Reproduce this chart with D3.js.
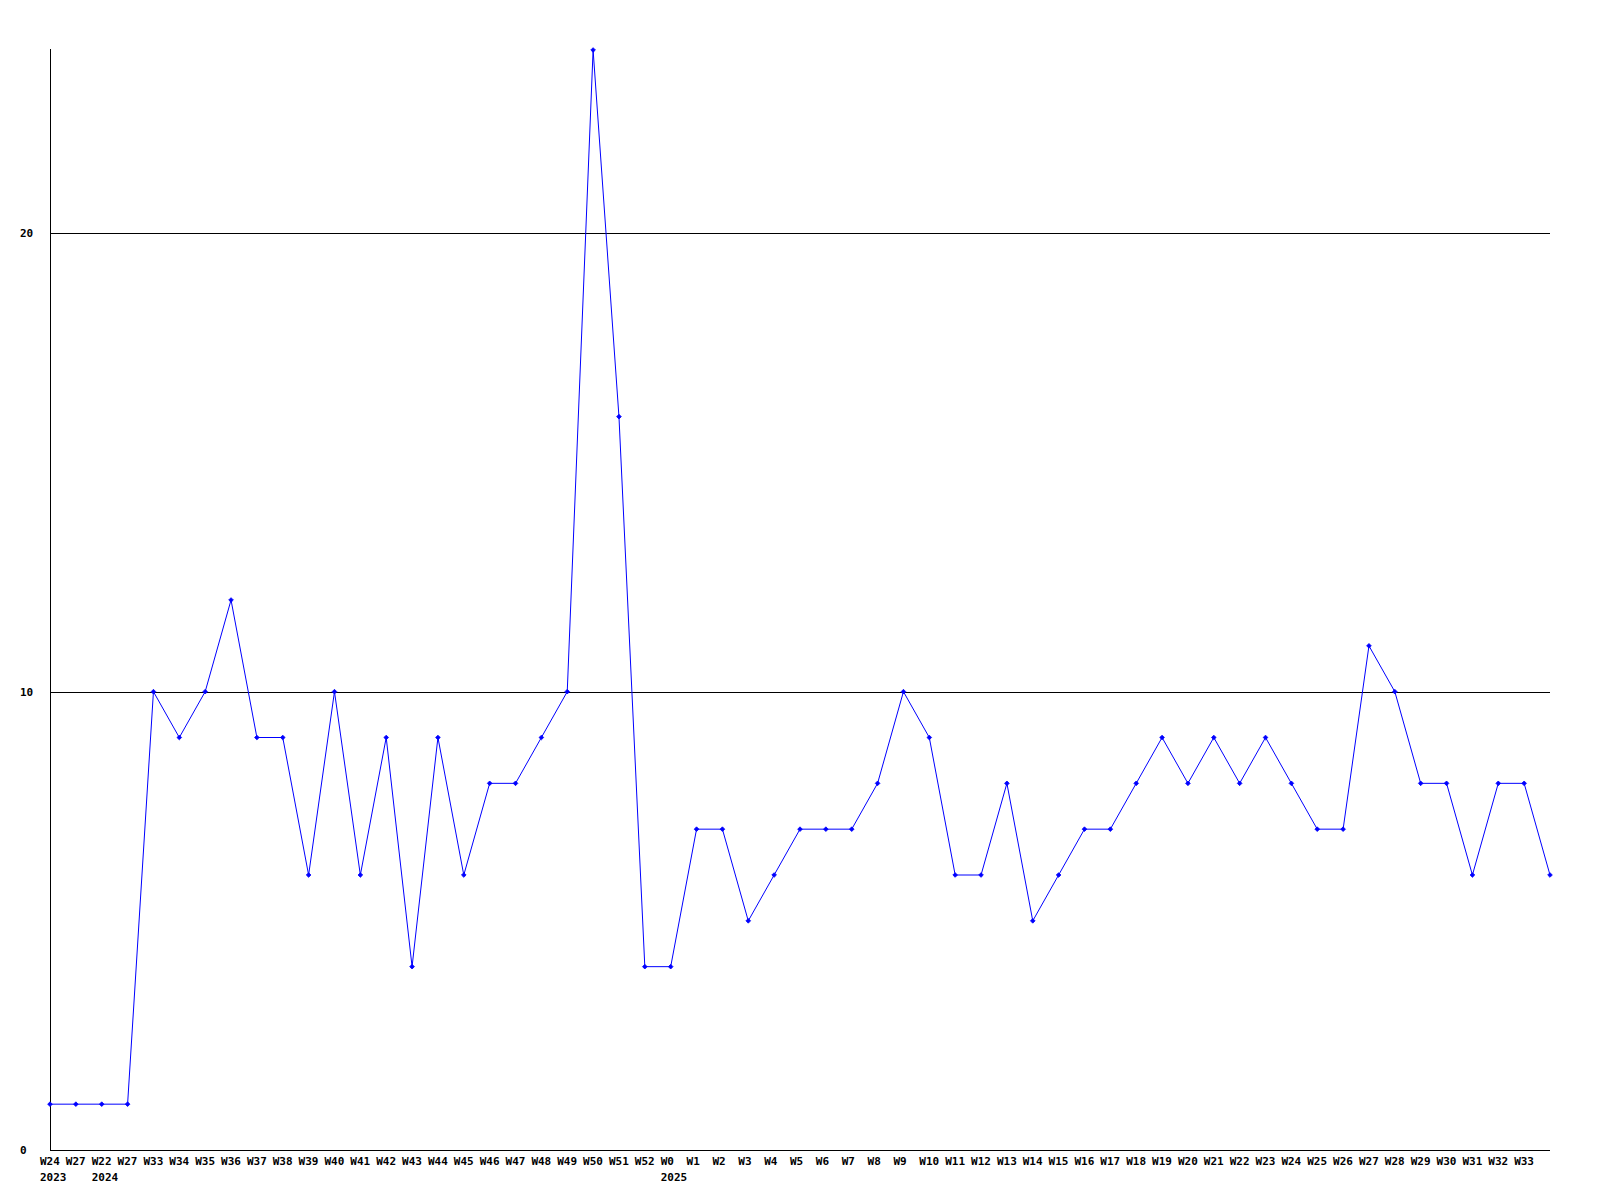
<!DOCTYPE html>
<html>
<head>
<meta charset="utf-8">
<script src="https://cdn.jsdelivr.net/npm/d3@7"></script>
<style>
html,body{margin:0;padding:0;background:#fff;}
svg text{font-family:"DejaVu Sans Mono",monospace;font-weight:bold;font-size:11px;fill:#000;}
</style>
</head>
<body>
<svg id="chart" width="1600" height="1200"></svg>
<script>
const weekLabels = ["W24","W27","W22","W27","W33","W34","W35","W36","W37","W38","W39","W40","W41","W42","W43","W44","W45","W46","W47","W48","W49","W50","W51","W52","W0","W1","W2","W3","W4","W5","W6","W7","W8","W9","W10","W11","W12","W13","W14","W15","W16","W17","W18","W19","W20","W21","W22","W23","W24","W25","W26","W27","W28","W29","W30","W31","W32","W33",""];
const yearLabels = ["2023","","2024","","","","","","","","","","","","","","","","","","","","","","2025","","","","","","","","","","","","","","","","","","","","","","","","","","","","","","","","","",""];
const values = [1,1,1,1,10,9,10,12,9,9,6,10,6,9,4,9,6,8,8,9,10,24,16,4,4,7,7,5,6,7,7,7,8,10,9,6,6,8,5,6,7,7,8,9,8,9,8,9,8,7,7,11,10,8,8,6,8,8,6];
const yTicks = [0,10,20];

const svg = d3.select("#chart");
const plotLeft = 50, plotRight = 1550, plotBottom = 1150, plotTop = 50;
const x = d3.scaleLinear().domain([0, values.length - 1]).range([plotLeft, plotRight]);
const y = d3.scaleLinear().domain([0, 24]).range([plotBottom, plotTop]);

// grid lines
svg.selectAll("line.grid").data(yTicks.filter(d => d > 0)).enter().append("line")
  .attr("x1", plotLeft).attr("x2", plotRight)
  .attr("y1", d => Math.round(y(d)) + 0.5).attr("y2", d => Math.round(y(d)) + 0.5)
  .attr("stroke", "#000").attr("stroke-width", 1).attr("shape-rendering", "crispEdges");

// axes lines
svg.append("line").attr("x1", plotLeft + 0.5).attr("x2", plotLeft + 0.5).attr("y1", plotTop - 1).attr("y2", plotBottom)
  .attr("stroke", "#000").attr("shape-rendering", "crispEdges");
svg.append("line").attr("x1", plotLeft).attr("x2", plotRight).attr("y1", plotBottom + 0.5).attr("y2", plotBottom + 0.5)
  .attr("stroke", "#000").attr("shape-rendering", "crispEdges");

// y tick labels
svg.selectAll("text.ytick").data(yTicks).enter().append("text")
  .attr("x", 20).attr("y", d => y(d)).attr("dy", "0.35em").text(d => d);

// x labels
svg.selectAll("text.xw").data(weekLabels).enter().append("text")
  .attr("x", (d, i) => x(i) - 10).attr("y", 1165).text(d => d);
svg.selectAll("text.xy").data(yearLabels).enter().append("text")
  .attr("x", (d, i) => x(i) - 10).attr("y", 1181).text(d => d);

// line
const line = d3.line().x((d, i) => x(i)).y(d => y(d));
svg.append("path").datum(values).attr("d", line)
  .attr("fill", "none").attr("stroke", "#0000ff").attr("stroke-width", 1);

// markers
svg.selectAll("path.pt").data(values).enter().append("path")
  .attr("d", d3.symbol(d3.symbolDiamond2, 14))
  .attr("transform", (d, i) => `translate(${x(i)},${y(d)})`)
  .attr("fill", "#0000ff").attr("stroke", "#0000ff").attr("stroke-width", 0.8);
</script>
</body>
</html>
